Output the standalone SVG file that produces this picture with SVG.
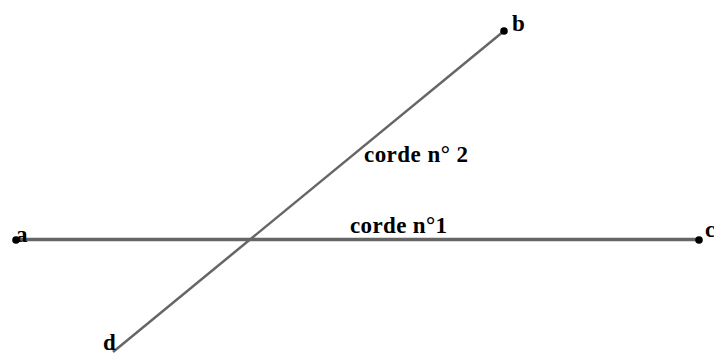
<svg xmlns="http://www.w3.org/2000/svg" width="714" height="356" viewBox="0 0 714 356">
<style>
.ln{stroke:#666;stroke-linecap:butt;fill:none}
.pt{fill:#000}
.lbl{font-family:"Liberation Serif",serif;font-weight:bold;font-size:23px;fill:#000}
</style>
<rect width="714" height="356" fill="#fff"/>
<g id="connectors">
<line class="ln" x1="16" y1="239.5" x2="699" y2="239.5" stroke-width="3.5"/>
<line class="ln" x1="504" y1="31" x2="113" y2="352" stroke-width="2.5"/>
</g>
<g id="a"><circle class="pt" cx="16" cy="240" r="3.8"/><text class="lbl" x="16" y="242">a</text></g>
<g id="c"><circle class="pt" cx="699" cy="240" r="3.8"/><text class="lbl" x="705" y="237">c</text></g>
<g id="b"><circle class="pt" cx="504" cy="31" r="3.8"/><text class="lbl" x="512" y="31">b</text></g>
<g id="d"><text class="lbl" x="103" y="350">d</text></g>
<g id="corde2"><text class="lbl" x="364" y="162" textLength="104" lengthAdjust="spacing">corde n° 2</text></g>
<g id="corde1"><text class="lbl" x="350" y="233" textLength="97" lengthAdjust="spacing">corde n°1</text></g>
</svg>
